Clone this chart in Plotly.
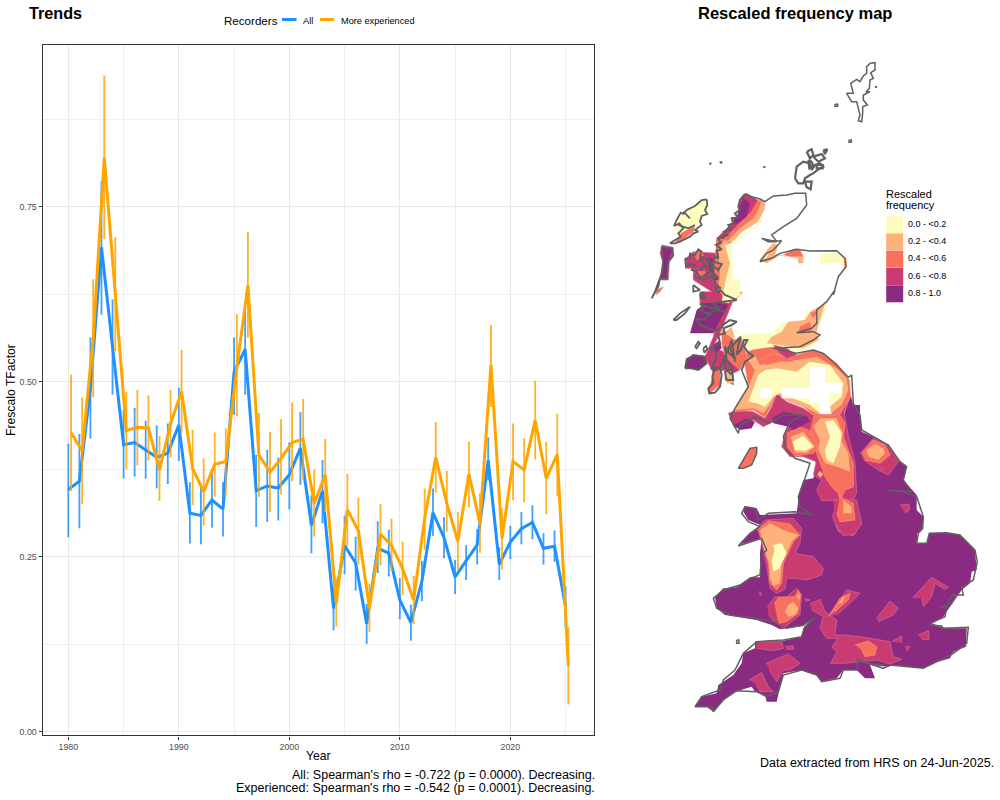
import plotly.graph_objects as go

# Trend series
YEARS = list(range(1980, 2026))
ALL_VALUES = [0.346, 0.358, 0.490, 0.692, 0.550, 0.410, 0.413, 0.402, 0.392, 0.398, 0.438, 0.312, 0.309, 0.331, 0.318, 0.514,
              0.546, 0.344, 0.351, 0.348, 0.367, 0.405, 0.295, 0.344, 0.176, 0.266, 0.241, 0.154, 0.262, 0.255, 0.188, 0.156,
              0.215, 0.313, 0.277, 0.221, 0.244, 0.267, 0.388, 0.239, 0.271, 0.290, 0.299, 0.262, 0.265, 0.179]
ALL_UPPER = [0.410, 0.424, 0.562, 0.785, 0.616, 0.458, 0.461, 0.443, 0.436, 0.439, 0.490, 0.355, 0.349, 0.368, 0.355, 0.562,
             0.608, 0.394, 0.401, 0.390, 0.412, 0.455, 0.336, 0.387, 0.206, 0.307, 0.277, 0.181, 0.299, 0.287, 0.218, 0.180,
             0.243, 0.346, 0.305, 0.244, 0.265, 0.288, 0.419, 0.262, 0.293, 0.312, 0.322, 0.282, 0.286, 0.206]
ALL_LOWER = [0.279, 0.292, 0.420, 0.597, 0.483, 0.363, 0.366, 0.363, 0.349, 0.355, 0.388, 0.270, 0.269, 0.293, 0.280, 0.454,
             0.483, 0.294, 0.301, 0.303, 0.319, 0.354, 0.256, 0.299, 0.146, 0.226, 0.203, 0.127, 0.228, 0.223, 0.162, 0.131,
             0.188, 0.281, 0.249, 0.198, 0.218, 0.240, 0.360, 0.218, 0.248, 0.269, 0.276, 0.240, 0.244, 0.150]
EXP_VALUES = [0.427, 0.401, 0.562, 0.820, 0.625, 0.430, 0.435, 0.434, 0.374, 0.440, 0.486, 0.376, 0.343, 0.382, 0.386, 0.520,
              0.638, 0.395, 0.371, 0.390, 0.413, 0.418, 0.326, 0.367, 0.183, 0.317, 0.287, 0.176, 0.282, 0.266, 0.233, 0.188,
              0.305, 0.392, 0.326, 0.272, 0.368, 0.298, 0.524, 0.276, 0.386, 0.374, 0.445, 0.362, 0.396, 0.094]
EXP_UPPER = [0.509, 0.476, 0.645, 0.936, 0.705, 0.484, 0.487, 0.479, 0.421, 0.487, 0.544, 0.430, 0.389, 0.426, 0.432, 0.595,
             0.713, 0.454, 0.427, 0.445, 0.469, 0.474, 0.373, 0.417, 0.217, 0.367, 0.333, 0.210, 0.324, 0.303, 0.270, 0.221,
             0.346, 0.441, 0.371, 0.312, 0.413, 0.339, 0.580, 0.318, 0.439, 0.418, 0.500, 0.413, 0.453, 0.148]
EXP_LOWER = [0.345, 0.326, 0.479, 0.705, 0.545, 0.376, 0.382, 0.389, 0.331, 0.393, 0.428, 0.325, 0.296, 0.337, 0.339, 0.452,
             0.564, 0.337, 0.315, 0.340, 0.359, 0.362, 0.280, 0.315, 0.151, 0.266, 0.240, 0.144, 0.239, 0.231, 0.196, 0.155,
             0.261, 0.343, 0.287, 0.233, 0.322, 0.257, 0.465, 0.233, 0.332, 0.329, 0.390, 0.312, 0.338, 0.040]

X_TICKS = [1980, 1990, 2000, 2010, 2020]
X_MINOR = [1985, 1995, 2005, 2015, 2025]
Y_TICKS = [0, 0.25, 0.5, 0.75]
Y_TICK_LABELS = ["0.00", "0.25", "0.50", "0.75"]
Y_MINOR = [0.125, 0.375, 0.625, 0.875]

LEGEND_LABELS = ["0.0 - <0.2", "0.2 - <0.4", "0.4 - <0.6", "0.6 - <0.8", "0.8 - 1.0"]

PURPLE = "#8b2a81"
PINK = "#c83c72"
ORANGE = "#f8705e"
PEACH = "#feb27b"
CREAM = "#fdfbbe"
LEGEND_COLORS = [CREAM, PEACH, ORANGE, PINK, PURPLE]
# pale contour line the bands show where they meet
EDGE_COLORS = {PINK: "#d56a95", ORANGE: "#fa8f7a"}

CROP_N = (640, 50)
CROP_M = (640, 290)
CROP_S = (680, 500)
CROP_A = (650, 190)
CROP_B = (670, 290)

BASE_M = [(632, 315), (640, 345), (660, 345), (660, 375), (665, 425), (700, 440), (745, 465), (780, 515), (800, 530), (790, 570), (830, 615),
          (830, 660), (850, 680), (848, 715)]
BASE_S = [(712, 100), (710, 130), (740, 132), (748, 100), (800, 98), (840, 105), (860, 125), (885, 150), (890, 210), (875, 215),
          (870, 250), (845, 270), (810, 320), (790, 350), (750, 375), (800, 385), (860, 385), (858, 440), (820, 455), (810, 475),
          (760, 490), (730, 505), (640, 495), (625, 500), (570, 495), (585, 535), (555, 535), (530, 510), (490, 510), (470, 535),
          (425, 545), (410, 525), (365, 510), (310, 520), (290, 605), (260, 605), (255, 585), (225, 575), (215, 560), (165, 575),
          (130, 600), (100, 635), (80, 620), (45, 620), (65, 590), (110, 580), (115, 555), (160, 525), (185, 490), (190, 460),
          (225, 445), (225, 425), (310, 422), (365, 410), (372, 380), (405, 350), (370, 378), (300, 388), (275, 375), (230, 360),
          (135, 345), (110, 325), (105, 290), (130, 265), (170, 262), (210, 232), (240, 232), (240, 160), (245, 115), (175, 135),
          (210, 100), (240, 75), (205, 60), (190, 35), (195, 20), (230, 25), (240, 45), (350, 40), (355, 0)]
BASE_M2 = [(475, 625), (480, 600), (490, 570), (520, 565), (530, 530), (620, 460), (610, 380)]

PINK_M = [
    [(632, 315), (612, 370), (628, 450), (645, 515), (650, 610), (640, 630), (665, 700), (640, 738), (595, 725), (578, 680),
     (592, 630), (570, 630), (545, 632), (530, 600), (545, 570), (520, 555), (528, 515), (490, 500), (450, 500), (425, 470),
     (435, 430), (455, 395), (430, 378), (400, 395), (370, 410), (340, 390), (300, 410), (285, 415), (265, 370), (290, 360),
     (340, 365), (375, 385), (395, 350), (410, 310), (440, 335), (490, 355), (520, 375), (600, 372)],
    [(660, 490), (700, 445), (750, 470), (775, 515), (745, 555), (715, 540), (670, 510)],
    [(782, 650), (805, 645), (808, 660), (795, 668)],
    [(718, 530), (730, 535), (720, 545)],
]
PINK_S = [
    [(230, 85), (255, 60), (340, 55), (365, 85), (360, 130), (345, 160), (400, 170), (430, 205), (425, 225), (380, 240), (345, 235),
     (320, 235), (315, 268), (290, 280), (270, 265), (262, 210), (250, 150), (240, 110)],
    [(262, 320), (285, 290), (320, 290), (350, 265), (365, 285), (360, 345), (310, 385), (290, 370), (265, 345)],
    [(390, 312), (420, 298), (435, 335), (470, 360), (465, 405), (490, 405), (540, 410), (630, 425), (640, 470), (665, 478), (630, 492),
     (590, 480), (490, 490), (452, 490), (470, 455), (455, 440), (475, 415), (440, 415), (420, 385), (430, 350), (395, 330)],
    [(445, 350), (500, 270), (540, 280), (520, 300), (470, 345)],
    [(590, 355), (630, 303), (655, 325), (640, 345), (595, 365)],
    [(697, 295), (755, 232), (805, 262), (795, 268), (765, 250), (755, 290), (730, 320), (725, 295)],
    [(715, 405), (745, 392), (748, 418), (725, 418)],
    [(635, 425), (665, 408), (665, 428)],
    [(675, 440), (690, 440), (680, 455)],
    [(258, 490), (325, 462), (360, 490), (330, 510), (310, 510), (290, 545), (268, 510)],
    [(207, 540), (245, 518), (265, 560), (280, 575), (240, 575), (230, 555)],
    [(225, 425), (305, 425), (310, 445), (280, 452), (230, 445)],
    [(315, 440), (340, 437), (340, 448), (320, 448)],
    [(235, 275), (245, 280), (240, 288)],
    [(372, 295), (390, 300), (375, 305)],
    [(660, 15), (685, 12), (690, 25), (675, 38)],
    [(460, 0), (530, 0), (545, 70), (525, 100), (490, 108), (465, 70)],
]
PINK_A = [
    [(105, 208), (130, 185), (205, 190), (235, 210), (230, 250), (220, 300), (210, 345), (150, 345), (150, 305), (185, 305), (130, 270),
     (130, 235), (105, 235)],
    [(268, 30), (290, 10), (330, 35), (320, 65), (270, 130), (240, 160), (215, 155), (200, 175), (200, 145), (240, 105), (265, 70)],
    [(35, 165), (70, 172), (70, 200), (58, 215), (55, 270), (30, 270), (38, 215), (30, 190)],
]
PINK_B = [
    [(150, 0), (190, 30), (170, 80), (150, 130), (130, 170), (160, 185), (210, 240), (190, 250), (190, 285), (165, 270), (165, 240), (130, 250),
     (120, 230), (105, 200), (130, 140)],
]
ORANGE_M = [
    [(285, 365), (340, 360), (375, 382), (395, 345), (410, 310), (440, 330), (490, 350), (520, 375), (600, 372), (632, 320), (628, 270),
     (590, 220), (550, 190), (520, 180), (470, 195), (400, 170), (360, 165), (310, 195), (325, 290), (300, 340)],
    [(520, 378), (600, 375), (615, 400), (610, 440), (625, 480), (640, 520), (640, 590), (615, 600), (600, 630), (595, 610), (575, 590),
     (555, 560), (530, 490), (510, 420)],
    [(440, 430), (480, 410), (505, 420), (535, 470), (520, 490), (465, 498), (440, 470)],
    [(665, 490), (700, 450), (735, 465), (750, 495), (720, 520), (675, 510)],
    [(600, 620), (640, 640), (645, 690), (600, 695), (590, 670)],
]
CREAM_EAST = [(280, 118), (298, 132), (395, 130), (425, 100), (490, 95), (495, 70), (530, 60), (550, 38), (570, 30), (545, 85), (530, 125),
              (540, 150), (510, 175), (470, 185), (400, 170), (330, 180), (310, 160), (300, 130)]
ORANGE_FORTH = [
    [(360, 210), (400, 190), (450, 205), (465, 215), (420, 215), (380, 225)],
    [(510, 70), (535, 60), (520, 85)],
    [(480, 110), (510, 95), (515, 125), (475, 125)],
]
PINK_FORTH = [(400, 165), (440, 175), (470, 195), (440, 205), (420, 190)]
ORANGE_S = [
    [(232, 88), (265, 62), (330, 72), (360, 105), (340, 125), (310, 190), (305, 250), (290, 270), (270, 250), (265, 190), (250, 140)],
    [(283, 310), (295, 293), (345, 290), (355, 270), (362, 285), (355, 340), (320, 365), (295, 370)],
    [(445, 350), (480, 295), (510, 280), (505, 300), (465, 335)],
    [(525, 435), (565, 423), (590, 440), (585, 465), (555, 470), (545, 450)],
]
ORANGE_A = [
    [(200, 145), (222, 150), (240, 205), (232, 260), (215, 300), (195, 280), (195, 200)],
    [(320, 35), (335, 30), (345, 45), (325, 80), (290, 105), (265, 125), (240, 155), (220, 150), (260, 110), (300, 70)],
    [(95, 125), (135, 105), (130, 125), (90, 155), (75, 155)],
    [(20, 300), (40, 290), (30, 305), (18, 315)],
    [(130, 190), (150, 180), (160, 195), (140, 210)],
    [(140, 245), (165, 245), (160, 260), (145, 260)],
]
ORANGE_B = [
    [(155, 120), (195, 150), (215, 140), (230, 200), (210, 240), (165, 200), (155, 160)],
    [(130, 250), (150, 240), (150, 285), (120, 310), (115, 300)],
]
ORANGE_N = [
    [(430, 615), (460, 598), (480, 600), (490, 620), (450, 620)],
]
PEACH_M = [
    [(285, 360), (300, 325), (325, 290), (345, 240), (320, 205), (345, 195), (360, 225), (420, 210), (470, 210), (530, 200), (590, 235),
     (620, 265), (625, 300), (605, 345), (570, 372), (535, 372), (480, 345), (430, 325), (410, 305), (390, 345), (370, 370), (340, 355)],
    [(540, 385), (590, 385), (608, 430), (605, 455), (625, 490), (630, 545), (590, 530), (555, 520), (535, 480), (540, 450), (520, 410)],
    [(452, 440), (490, 425), (525, 470), (500, 488), (465, 488)],
    [(680, 480), (705, 462), (730, 475), (735, 490), (715, 510), (685, 500)],
    [(610, 630), (635, 650), (635, 670), (610, 670)],
    [(532, 552), (540, 543), (550, 553), (540, 563)],
    [(380, 160), (395, 140), (425, 125), (445, 95), (495, 90), (510, 65), (535, 50), (555, 40), (540, 90), (530, 125), (535, 150), (490, 175)],
]
PEACH_S = [
    [(240, 90), (270, 70), (310, 90), (355, 105), (335, 125), (305, 190), (300, 250), (280, 258), (270, 235), (268, 190), (250, 140)],
    [(315, 335), (325, 315), (340, 305), (355, 325), (345, 345), (325, 350)],
    [(350, 290), (358, 280), (360, 300)],
    [(475, 310), (495, 285), (487, 310)],
]
PEACH_A = [
    [(205, 175), (225, 150), (245, 165), (245, 230), (235, 280), (220, 320), (205, 300), (210, 250)],
    [(335, 30), (345, 55), (325, 95), (270, 130), (248, 160), (230, 155), (270, 115), (310, 85), (325, 60)],
    [(100, 70), (125, 50), (135, 75), (110, 90)],
]
PEACH_B = [
    [(165, 240), (190, 245), (190, 280), (170, 280)],
    [(150, 5), (220, 5), (190, 40), (170, 30)],
    [(160, 130), (185, 110), (195, 145)],
]
PEACH_N = [
    [(358, 630), (385, 595), (400, 580), (415, 585), (405, 615), (440, 620), (490, 620), (490, 640), (475, 640), (473, 625), (420, 615), (380, 640)],
    [(610, 620), (620, 625), (620, 655), (612, 655)],
]
CREAM_M = [
    [(325, 335), (355, 255), (375, 240), (410, 235), (470, 245), (510, 215), (570, 225), (610, 280), (605, 320), (570, 350), (575, 372),
     (540, 370), (510, 345), (470, 330), (420, 310), (400, 320), (375, 350), (350, 340)],
    [(555, 395), (580, 390), (605, 430), (600, 470), (580, 520), (560, 510), (555, 480), (570, 440)],
    [(458, 455), (490, 437), (520, 470), (495, 482), (465, 480)],
]
CREAM_S = [
    [(280, 135), (305, 130), (320, 160), (298, 205), (280, 215), (275, 180), (283, 155)],
]
CREAM_A = [
    [(225, 165), (245, 160), (250, 270), (270, 270), (270, 315), (235, 340), (215, 335), (225, 280), (240, 220)],
    [(325, 100), (345, 70), (335, 95), (300, 125), (250, 165), (245, 155), (300, 120)],
    [(75, 100), (105, 65), (155, 30), (170, 30), (170, 65), (150, 85), (155, 100), (130, 110), (100, 125), (85, 135), (75, 120)],
]
CREAM_N = [
    [(362, 632), (390, 600), (380, 622)],
    [(540, 610), (610, 610), (610, 640), (540, 640)],
]
WHITE_M = [
    [(360, 295), (395, 295), (395, 325), (360, 325)],
    [(425, 295), (510, 295), (510, 230), (555, 230), (555, 280), (605, 280), (605, 310), (570, 310), (570, 372), (540, 372), (540, 340),
     (510, 340), (510, 325), (425, 325)],
]
PURPLE_M = [
    [(395, 385), (430, 365), (500, 378), (510, 395), (460, 420), (445, 410), (400, 400)],
    [(280, 405), (320, 385), (345, 395), (335, 415), (300, 420)],
]
PURPLE_A = [
    [(175, 205), (188, 205), (190, 245), (178, 245)],
    [(190, 260), (205, 260), (205, 270), (190, 272)],
    [(155, 340), (215, 340), (215, 350), (155, 350)],
    [(275, 40), (280, 25), (300, 40), (290, 80), (255, 105), (250, 90), (265, 75), (265, 50)],
    [(35, 170), (70, 175), (55, 210), (50, 265), (30, 265), (40, 215), (38, 190)],
]
PURPLE_B = [
    [(60, 130), (80, 60), (105, 40), (150, 40), (175, 45), (155, 80), (130, 130)],
    [(48, 205), (70, 195), (105, 200), (110, 220), (85, 240), (45, 235)],
    [(130, 165), (150, 150), (155, 175), (135, 190)],
]

# Coast, walking from Cape Wrath clockwise around the mainland
COAST_N = [(315, 432), (335, 440), (360, 447), (375, 455), (400, 438), (440, 435), (465, 430), (497, 430), (500, 465), (470, 505), (430, 530),
           (395, 555), (410, 575), (365, 565), (385, 575), (425, 572), (400, 600), (380, 610), (360, 635), (395, 625), (420, 610), (470, 598),
           (510, 603), (590, 602), (615, 625), (618, 650), (595, 680), (580, 735)]
COAST_M = [(585, 0), (560, 35), (530, 60), (530, 100), (515, 115), (470, 128), (520, 125), (540, 135), (520, 150), (480, 170), (400, 175),
           (470, 190), (520, 180), (550, 190), (590, 225), (625, 262), (635, 255), (640, 340), (660, 375), (665, 420), (700, 440), (745, 465),
           (780, 515), (800, 530), (790, 570), (815, 605), (740, 600), (790, 605), (830, 620), (850, 680), (848, 715)]
COAST_S = [(715, 100), (710, 130), (740, 130), (748, 100), (800, 98), (840, 105), (885, 150), (892, 185), (880, 240), (845, 262), (850, 285),
           (815, 285), (800, 320), (795, 350), (750, 370), (790, 385), (865, 382), (860, 430), (820, 460), (760, 490), (730, 505), (630, 495),
           (610, 505), (580, 495), (535, 480), (530, 510), (490, 510), (480, 535), (425, 545), (410, 525), (365, 510), (310, 525), (295, 575),
           (260, 590), (230, 575), (170, 572), (130, 600), (100, 635), (95, 620), (45, 620), (65, 590), (120, 570), (130, 540), (165, 510),
           (190, 460), (230, 425), (310, 420), (365, 410), (372, 385), (405, 352), (370, 375), (320, 385), (280, 365), (220, 355), (150, 345),
           (110, 325), (100, 295), (130, 270), (180, 255), (210, 235), (240, 225), (245, 165), (260, 150), (245, 115), (175, 138), (210, 100),
           (240, 80), (205, 65), (185, 40), (195, 20), (225, 25), (235, 60), (265, 40), (345, 35), (395, 45), (358, 20), (355, 0)]
COAST_M2 = [(475, 620), (495, 565), (510, 520), (465, 505), (440, 480), (430, 440), (450, 395), (490, 375), (430, 375), (385, 400), (345, 380),
            (300, 405), (295, 430), (270, 385), (285, 355), (325, 290), (305, 240)]
# West of Scotland is far more broken up, so it gets a heavier line and more points
COAST_B = [(215, 240), (225, 215), (250, 198), (232, 185), (222, 170), (232, 150), (222, 150), (212, 180), (200, 195), (205, 165), (212, 140),
           (195, 160), (180, 175), (195, 205), (178, 190), (165, 170), (170, 210), (190, 240), (182, 252), (165, 235), (165, 195), (160, 215),
           (150, 235), (135, 232), (127, 260), (130, 280), (115, 295), (118, 310), (135, 308), (150, 290), (155, 255), (150, 235), (125, 235),
           (140, 200), (135, 180), (120, 175), (150, 160), (145, 135), (165, 130), (160, 115), (185, 105), (200, 95), (180, 90), (165, 100),
           (145, 120), (125, 120), (90, 105), (78, 85), (100, 90), (120, 75), (90, 60), (105, 50), (90, 42), (125, 55), (150, 55), (125, 40),
           (170, 35), (200, 30), (190, 25), (165, 15), (150, 0)]
COAST_A = [(205, 310), (195, 290), (212, 295), (200, 285), (185, 255), (205, 265), (190, 250), (185, 225), (205, 240), (215, 222), (190, 215),
           (195, 200), (205, 205), (200, 182), (215, 178), (198, 165), (212, 158), (205, 145), (232, 135), (222, 125), (243, 118), (235, 105),
           (250, 100), (245, 85), (262, 82), (255, 70), (270, 60), (265, 50), (270, 30), (285, 12)]

# Islands and sea lochs, drawn as their own outlines
ISLANDS_N = [
    [(690, 40), (705, 38), (705, 60), (692, 68), (700, 85), (690, 90), (688, 115), (678, 125), (690, 125), (670, 135), (670, 150), (682, 165),
     (668, 170), (668, 190), (665, 215), (655, 212), (660, 195), (655, 175), (650, 155), (635, 155), (620, 130), (640, 130), (632, 100), (650, 88),
     (660, 95), (670, 78), (680, 70), (680, 50), (690, 40)],
    [(705, 110), (709, 110), (709, 113), (705, 110)],
    [(585, 163), (593, 163), (593, 169), (585, 169), (585, 163)],
    [(627, 270), (634, 270), (634, 277), (627, 277), (627, 270)],
    [(208, 340), (212, 340), (212, 343), (208, 340)],
    [(239, 336), (245, 336), (245, 340), (239, 336)],
    [(370, 350), (374, 350), (374, 353), (370, 350)],
]
ORKNEY = [
    [(465, 385), (470, 350), (490, 335), (510, 340), (515, 360), (525, 345), (540, 340), (550, 350), (535, 358), (520, 370), (510, 375), (495, 385),
     (490, 400), (475, 400), (465, 385)],
    [(500, 305), (515, 298), (520, 315), (510, 325), (500, 305)],
    [(520, 320), (545, 312), (555, 325), (535, 335), (520, 320)],
    [(550, 300), (562, 298), (555, 312), (550, 300)],
    [(495, 395), (515, 395), (512, 418), (500, 412), (495, 395)],
    [(505, 330), (515, 335), (520, 350), (508, 355), (505, 330)],
    [(530, 345), (548, 345), (548, 355), (530, 355), (530, 345)],
]
ISLANDS_A = [
    [(170, 28), (155, 30), (135, 48), (110, 60), (100, 72), (92, 68), (80, 90), (72, 108), (88, 100), (100, 115), (85, 130), (92, 140), (75, 150),
     (60, 160), (75, 160), (90, 155), (120, 140), (130, 130), (145, 125), (135, 120), (155, 105), (150, 95), (155, 78), (172, 72), (165, 60),
     (172, 45), (170, 28)],
    [(100, 65), (110, 75), (120, 85)],
    [(85, 105), (115, 115), (135, 105)],
    [(35, 170), (65, 175), (70, 195), (55, 215), (50, 265), (30, 265), (25, 290), (10, 320), (5, 325), (15, 305), (35, 250), (40, 215), (35, 190),
     (35, 170)],
    [(105, 205), (118, 207), (120, 190), (133, 197), (145, 178), (155, 185), (150, 200), (168, 205), (178, 225), (165, 230), (180, 245), (165, 255),
     (150, 262), (140, 245), (125, 240), (135, 225), (118, 222), (108, 228), (105, 205)],
    [(170, 205), (190, 225), (178, 240), (195, 255), (160, 270), (130, 258)],
    [(130, 285), (150, 300), (130, 305), (130, 285)],
    [(152, 318), (162, 318), (162, 326), (152, 326), (152, 318)],
    [(150, 205), (165, 225), (150, 240)],
]
ISLANDS_B = [
    [(45, 235), (50, 210), (70, 195), (105, 200), (110, 220), (85, 240), (65, 235), (45, 235)],
    [(10, 90), (30, 70), (60, 50), (45, 70), (20, 90), (10, 90)],
    [(75, 170), (85, 155), (90, 160), (80, 175), (75, 170)],
    [(100, 175), (108, 168), (112, 178), (103, 188), (100, 175)],
    [(170, 270), (165, 245), (185, 238), (190, 270), (170, 270)],
    [(115, 70), (140, 60), (165, 65)],
    [(170, 190), (185, 150), (195, 215)],
    [(90, 10), (100, 8), (102, 20), (92, 22), (90, 10)],
]
ISLANDS_M = [
    [(295, 535), (330, 475), (350, 472), (350, 490), (335, 525), (310, 535), (295, 535)],
]
ISLANDS_S = [
    [(750, 375), (785, 378), (790, 385)],
    [(780, 325), (815, 310), (830, 285)],
    [(530, 480), (560, 490), (610, 495)],
    [(170, 420), (177, 420), (177, 430), (170, 430), (170, 420)],
]
ISLE_OF_MAN_FILL = [(295, 535), (330, 475), (350, 472), (350, 490), (335, 525), (310, 535)]


def from_crop(points, crop):
    # 3x crop pixels back to page pixels, the map axis is in page pixels
    return [crop[0] + p[0] / 3 for p in points], [crop[1] + p[1] / 3 for p in points]


def add_fill(fig, points, crop, color):
    xs, ys = from_crop(points, crop)
    edge = EDGE_COLORS.get(color)
    line = dict(color=edge, width=0.7) if edge else dict(width=0)
    fig.add_trace(go.Scatter(x=xs, y=ys, mode="lines", fill="toself", fillcolor=color, line=line,
                             xaxis="x2", yaxis="y2", showlegend=False, hoverinfo="skip"))


def add_outline(fig, xs, ys, width=1.5):
    fig.add_trace(go.Scatter(x=xs, y=ys, mode="lines", line=dict(color="#606060", width=width),
                             xaxis="x2", yaxis="y2", showlegend=False, hoverinfo="skip"))


def paper_x(px):
    return px / 1000


def paper_y(py):
    return 1 - py / 800


def add_text(fig, text, px, py, size, anchor="left", bold=False):
    # annotations keep about 2px of padding inside their box
    shift = {"left": -2, "right": 2, "center": 0}[anchor]
    fig.add_annotation(text=f"<b>{text}</b>" if bold else text, x=paper_x(px + shift), y=paper_y(py), xref="paper", yref="paper",
                       showarrow=False, xanchor=anchor, yanchor="middle", font=dict(size=size, color="black"))


def add_series(fig, name, xs, values, upper, lower, color, error_color):
    fig.add_trace(go.Scatter(
        x=xs, y=values, name=name, mode="lines", line=dict(color=color, width=3),
        error_y=dict(type="data", symmetric=False,
                     array=[u - v for u, v in zip(upper, values)],
                     arrayminus=[v - l for v, l in zip(values, lower)],
                     color=error_color, thickness=1.8, width=1),
        showlegend=False))


fig = go.Figure()

add_series(fig, "All", YEARS, ALL_VALUES, ALL_UPPER, ALL_LOWER, "#1e90ff", "rgba(30,144,255,0.85)")
# ggplot dodged the second series a quarter of a year to the right
add_series(fig, "More experienced", [y + 0.25 for y in YEARS], EXP_VALUES, EXP_UPPER, EXP_LOWER, "#ffa500", "rgba(255,165,0,0.85)")

# Map layers, painted from the highest band down to the lowest
base_x, base_y = [], []
for pts, crop in [(BASE_M, CROP_M), (BASE_S, CROP_S), (BASE_M2, CROP_M)]:
    xs, ys = from_crop(pts, crop)
    base_x += xs
    base_y += ys
fig.add_trace(go.Scatter(x=base_x, y=base_y, mode="lines", fill="toself", fillcolor=PURPLE, line=dict(width=0),
                         xaxis="x2", yaxis="y2", showlegend=False, hoverinfo="skip"))

LAYERS = [
    (PINK_M, CROP_M, PINK), (PINK_S, CROP_S, PINK), (PINK_A, CROP_A, PINK), (PINK_B, CROP_B, PINK),
    (ORANGE_M, CROP_M, ORANGE), (ORANGE_S, CROP_S, ORANGE), (ORANGE_A, CROP_A, ORANGE), (ORANGE_B, CROP_B, ORANGE), (ORANGE_N, CROP_N, ORANGE),
    ([CREAM_EAST], CROP_M, CREAM),
    (PEACH_M, CROP_M, PEACH), (PEACH_S, CROP_S, PEACH), (PEACH_A, CROP_A, PEACH), (PEACH_B, CROP_B, PEACH), (PEACH_N, CROP_N, PEACH),
    (CREAM_M, CROP_M, CREAM), (CREAM_S, CROP_S, CREAM), (CREAM_A, CROP_A, CREAM), (CREAM_N, CROP_N, CREAM),
    (WHITE_M, CROP_M, "white"), (ORANGE_FORTH, CROP_M, ORANGE), ([PINK_FORTH], CROP_M, PINK),
    (PURPLE_M, CROP_M, PURPLE), (PURPLE_A, CROP_A, PURPLE), (PURPLE_B, CROP_B, PURPLE),
]
for polygons, crop, color in LAYERS:
    for pts in polygons:
        add_fill(fig, pts, crop, color)
add_fill(fig, ISLE_OF_MAN_FILL, CROP_M, ORANGE)

coast_x, coast_y = [], []
for pts, crop in [(COAST_N, CROP_N), (COAST_M, CROP_M), (COAST_S, CROP_S), (COAST_M2, CROP_M)]:
    xs, ys = from_crop(pts, crop)
    coast_x += xs
    coast_y += ys
add_outline(fig, coast_x, coast_y)
west_x, west_y = [], []
for pts, crop in [(COAST_B, CROP_B), (COAST_A, CROP_A)]:
    xs, ys = from_crop(pts, crop)
    west_x += xs
    west_y += ys
add_outline(fig, west_x, west_y, width=2)
for outlines, crop, width in [(ISLANDS_N, CROP_N, 1.5), (ORKNEY, CROP_N, 2.2), (ISLANDS_A, CROP_A, 1.8), (ISLANDS_B, CROP_B, 1.8),
                              (ISLANDS_M, CROP_M, 1.5), (ISLANDS_S, CROP_S, 1.5)]:
    for pts in outlines:
        xs, ys = from_crop(pts, crop)
        add_outline(fig, xs, ys, width)

# Map legend keys and their labels
key_y = [224.6 + 17.3 * i for i in range(5)]
fig.add_trace(go.Scatter(
    x=[894.7] * 5, y=key_y, mode="markers", marker=dict(symbol="square", size=17, color=LEGEND_COLORS, line=dict(width=0)),
    xaxis="x2", yaxis="y2", showlegend=False, hoverinfo="skip"))
fig.add_trace(go.Scatter(
    x=[908] * 5, y=key_y, mode="text", text=LEGEND_LABELS, textposition="middle right", textfont=dict(size=9, color="black"),
    xaxis="x2", yaxis="y2", showlegend=False, hoverinfo="skip"))

fig.update_layout(
    width=1000, height=800, margin=dict(l=0, r=0, t=0, b=0), paper_bgcolor="white", plot_bgcolor="white",
    font=dict(family="Liberation Sans, Arial, sans-serif", color="black"),
    xaxis=dict(domain=[0.0427, 0.5943], range=[1977.68, 2027.6], tickmode="array", tickvals=X_TICKS,
               tickfont=dict(size=8.8, color="#4d4d4d"), ticks="outside", ticklen=3, tickcolor="#333333",
               showgrid=True, gridcolor="#e8e8e8", gridwidth=1.3, zeroline=False,
               showline=True, linecolor="#333333", linewidth=1.4, mirror=True,
               minor=dict(tickmode="array", tickvals=X_MINOR, showgrid=True, gridcolor="#efefef", gridwidth=1, ticks="")),
    yaxis=dict(domain=[1 - 735.3 / 800, 1 - 45 / 800], range=[-0.0052, 0.981], tickmode="array", tickvals=Y_TICKS, ticktext=Y_TICK_LABELS,
               tickfont=dict(size=8.8, color="#4d4d4d"), ticks="outside", ticklen=3, tickcolor="#333333",
               showgrid=True, gridcolor="#e8e8e8", gridwidth=1.3, zeroline=False,
               showline=True, linecolor="#333333", linewidth=1.4, mirror=True,
               minor=dict(tickmode="array", tickvals=Y_MINOR, showgrid=True, gridcolor="#efefef", gridwidth=1, ticks="")),
    xaxis2=dict(domain=[0.6, 1.0], range=[600, 1000], visible=False, anchor="y2"),
    yaxis2=dict(domain=[0, 1], range=[800, 0], visible=False, anchor="x2"),
)

# Legend of the trends panel, ggplot keeps its keys shorter than plotly's own legend allows
for x0, x1, color in [(282, 296.5, "#1e90ff"), (320, 334, "#ffa500")]:
    fig.add_shape(type="line", xref="paper", yref="paper", x0=paper_x(x0), x1=paper_x(x1), y0=paper_y(19.5), y1=paper_y(19.5),
                  line=dict(color=color, width=3))

add_text(fig, "Trends", 29, 13.5, 16.2, bold=True)
add_text(fig, "Recorders", 224, 20, 11.6)
add_text(fig, "All", 303, 20.5, 9.2)
add_text(fig, "More experienced", 341, 20.5, 9.2)
add_text(fig, "Rescaled frequency map", 795, 13.5, 16.5, anchor="center", bold=True)
add_text(fig, "Year", 318.5, 756, 12.2, anchor="center")
add_text(fig, "All: Spearman's rho = -0.722 (p = 0.0000). Decreasing.", 594.5, 775, 12.5, anchor="right")
add_text(fig, "Experienced: Spearman's rho = -0.542 (p = 0.0001). Decreasing.", 594.5, 788, 12.5, anchor="right")
add_text(fig, "Data extracted from HRS on 24-Jun-2025.", 994, 763, 12.5, anchor="right")
add_text(fig, "Rescaled", 886, 193.5, 11)
add_text(fig, "frequency", 886, 205.5, 11)
fig.add_annotation(text="Frescalo TFactor", x=paper_x(11), y=paper_y(390), xref="paper", yref="paper", showarrow=False,
                   xanchor="center", yanchor="middle", textangle=-90, font=dict(size=12.2, color="black"))

fig.write_html("out.html", config=dict(displayModeBar=False), post_script="document.body.style.margin='0'")
